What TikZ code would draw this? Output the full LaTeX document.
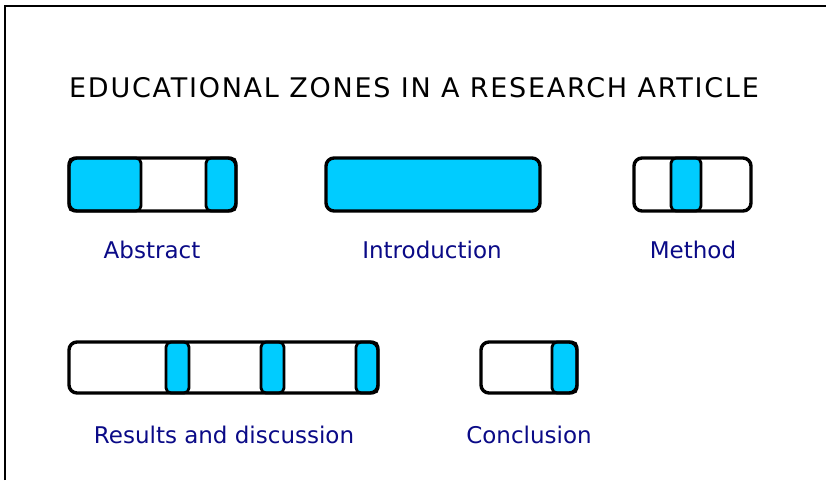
\documentclass[tikz,border=0pt]{standalone}
\usepackage{fontspec}
\setmainfont{DejaVu Sans}
\newfontfamily\titlefont[LetterSpace=6.5]{DejaVu Sans}
\definecolor{zonecyan}{RGB}{0,204,255}
\definecolor{labelnavy}{RGB}{10,10,135}
\begin{document}
\begin{tikzpicture}[x=1pt,y=-1pt,
  outerbox/.style={draw=black,line width=3.4pt,rounded corners=8pt},
  zone/.style={draw=black,fill=zonecyan,line width=2.8pt,rounded corners=5pt},
  lbl/.style={text=labelnavy,font=\fontsize{23}{26}\selectfont,anchor=base,inner sep=0pt}]
\useasboundingbox (0,0) rectangle (826,480);
\fill[white] (0,0) rectangle (826,480);
% frame
\draw[line width=2pt] (5,480) -- (5,6) -- (826,6);
% title
\node[anchor=base,inner sep=0pt,font=\titlefont\fontsize{27}{30}\selectfont] (title) at (414,97) {EDUCATIONAL ZONES IN A RESEARCH ARTICLE};
% Abstract
\fill[white,rounded corners=8pt] (69,158) rectangle (236,211);
\draw[zone] (69,158) rectangle (141,211);
\draw[zone] (206,158) rectangle (236,211);
\draw[outerbox] (69,158) rectangle (236,211);
\node[lbl] (abstract) at (152,258) {Abstract};
% Introduction
\draw[outerbox,fill=zonecyan] (326,158) rectangle (540,211);
\node[lbl] (intro) at (432,258) {Introduction};
% Method
\fill[white,rounded corners=8pt] (634,158) rectangle (751,211);
\draw[zone] (671,158) rectangle (701,211);
\draw[outerbox] (634,158) rectangle (751,211);
\node[lbl] (method) at (693,258) {Method};
% Results and discussion
\fill[white,rounded corners=8pt] (69,342) rectangle (378,393);
\draw[zone] (166,342) rectangle (189,393);
\draw[zone] (261,342) rectangle (284,393);
\draw[zone] (356,342) rectangle (378,393);
\draw[outerbox] (69,342) rectangle (378,393);
\node[lbl] (results) at (224,443) {Results and discussion};
% Conclusion
\fill[white,rounded corners=8pt] (481,342) rectangle (577,393);
\draw[zone] (552,342) rectangle (577,393);
\draw[outerbox] (481,342) rectangle (577,393);
\node[lbl] (conclusion) at (529,443) {Conclusion};
\end{tikzpicture}
\end{document}
